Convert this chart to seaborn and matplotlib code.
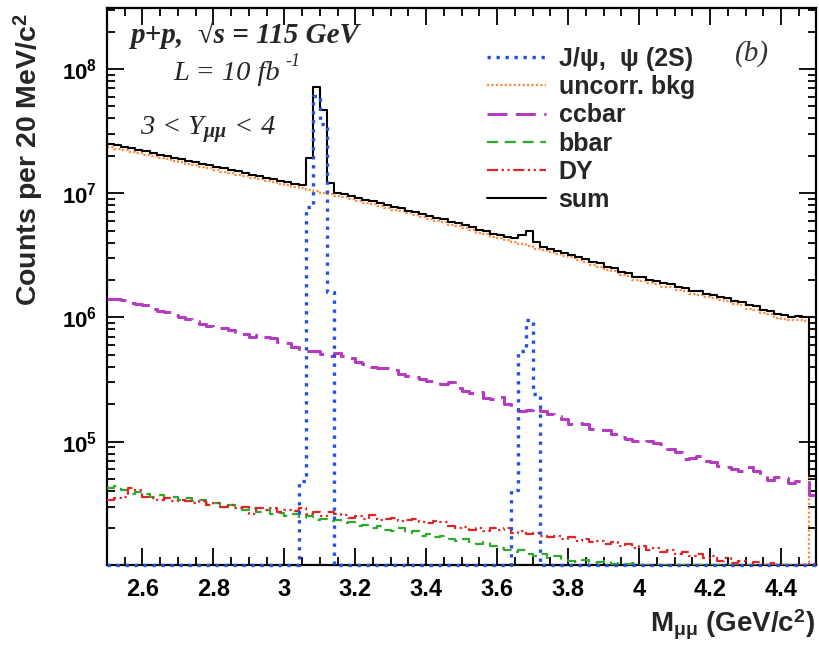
import numpy as np
import pandas as pd
import matplotlib
matplotlib.use("Agg")
import matplotlib.pyplot as plt
import matplotlib.ticker as mticker
import seaborn as sns

# ---------------- data (counts per 20 MeV bin, 2.50 - 4.50 GeV) ----------------
M_LO, M_HI, BIN_W = 2.5, 4.5, 0.02

uncorr_bkg = np.array([
    23.46, 22.80, 22.10, 21.58, 20.90, 20.36, 19.78, 19.30, 18.70, 18.25,
    17.70, 17.25, 16.75, 16.35, 15.84, 15.45, 14.96, 14.60, 14.15, 13.80,
    13.38, 13.02, 12.62, 12.30, 11.93, 11.64, 11.30, 11.02, 10.70, 10.43,
    10.13, 9.90, 9.55, 9.29, 8.95, 8.71, 8.39, 8.16, 7.85, 7.62,
    7.33, 7.15, 6.88, 6.68, 6.42, 6.25, 6.00, 5.85, 5.58, 5.43,
    5.21, 5.06, 4.82, 4.70, 4.48, 4.35, 4.17, 4.06, 3.88, 3.77,
    3.59, 3.50, 3.34, 3.26, 3.10, 3.04, 2.88, 2.81, 2.65, 2.57,
    2.42, 2.35, 2.20, 2.15, 2.01, 1.98, 1.88, 1.86, 1.76, 1.75,
    1.65, 1.64, 1.55, 1.53, 1.46, 1.44, 1.37, 1.35, 1.28, 1.26,
    1.17, 1.15, 1.08, 1.06, 0.99, 0.97, 0.95, 0.96, 0.94, 0.0]) * 1e6

ccbar = np.array([
    1.42, 1.40, 1.37, 1.30, 1.28, 1.25, 1.18, 1.12, 1.10, 1.04,
    1.00, 0.98, 0.93, 0.88, 0.86, 0.83, 0.815, 0.79, 0.76, 0.74,
    0.70, 0.72, 0.69, 0.68, 0.64, 0.62, 0.58, 0.56, 0.54, 0.54,
    0.51, 0.49, 0.52, 0.49, 0.47, 0.44, 0.42, 0.40, 0.39, 0.395,
    0.38, 0.35, 0.335, 0.33, 0.32, 0.31, 0.31, 0.29, 0.30, 0.27,
    0.255, 0.245, 0.25, 0.225, 0.22, 0.23, 0.20, 0.19, 0.178, 0.18,
    0.185, 0.178, 0.168, 0.16, 0.153, 0.138, 0.142, 0.138, 0.127, 0.123,
    0.125, 0.116, 0.110, 0.106, 0.102, 0.100, 0.102, 0.098, 0.095, 0.088,
    0.082, 0.072, 0.074, 0.076, 0.070, 0.068, 0.064, 0.062, 0.0606, 0.058,
    0.062, 0.058, 0.054, 0.0495, 0.052, 0.051, 0.0465, 0.0485, 0.0475, 0.037]) * 1e6

bbar = np.array([
    4.2, 4.4, 4.1, 3.8, 3.9, 3.8, 3.6, 3.7, 3.5, 3.6,
    3.4, 3.5, 3.3, 3.4, 3.2, 3.2, 3.0, 3.1, 2.9, 2.8,
    2.9, 2.7, 2.8, 2.6, 2.65, 2.5, 2.6, 2.45, 2.5, 2.35,
    2.4, 2.3, 2.35, 2.2, 2.25, 2.1, 2.15, 2.0, 2.1, 1.95,
    1.9, 2.0, 1.85, 1.9, 1.75, 1.8, 1.7, 1.75, 1.65, 1.6,
    1.65, 1.55, 1.5, 1.55, 1.45, 1.4, 1.35, 1.3, 1.35, 1.25,
    1.2, 1.25, 1.15, 1.2, 1.12, 1.1, 1.08, 1.12, 1.05, 1.07,
    1.1, 1.04, 1.06, 1.03, 1.05, 0.98, 0.95, 1.0, 0.93, 0.9,
    0.9, 0.88, 0.86, 0.85, 0.83, 0.8, 0.79, 0.78, 0.76, 0.74,
    0.73, 0.72, 0.7, 0.69, 0.68, 0.66, 0.65, 0.64, 0.62, 0.6]) * 1e4

drell_yan = np.array([
    3.4, 3.5, 3.6, 4.2, 4.1, 3.6, 3.5, 3.4, 3.5, 3.3,
    3.4, 3.3, 3.2, 3.3, 3.1, 3.2, 3.0, 3.1, 2.9, 3.0,
    2.6, 2.9, 2.8, 2.9, 2.7, 2.8, 2.75, 2.9, 2.6, 2.7,
    2.5, 2.7, 2.6, 2.55, 2.45, 2.5, 2.4, 2.55, 2.35, 2.4,
    2.45, 2.3, 2.35, 2.4, 2.25, 2.2, 2.3, 2.25, 2.1, 2.0,
    2.05, 1.95, 2.0, 1.9, 2.0, 1.95, 2.0, 1.85, 1.9, 1.8,
    1.85, 1.75, 1.7, 1.75, 1.65, 1.7, 1.6, 1.65, 1.55, 1.6,
    1.5, 1.55, 1.45, 1.5, 1.4, 1.45, 1.35, 1.4, 1.3, 1.35,
    1.25, 1.3, 1.2, 1.25, 1.15, 1.2, 1.1, 1.15, 1.05, 1.1,
    1.0, 1.08, 0.98, 1.05, 0.95, 1.02, 0.92, 1.0, 0.9, 1.04]) * 1e4

jpsi_psi2s = np.zeros(100)
jpsi_bins = [27, 28, 29, 30, 31]           # 3.04 - 3.14 GeV
jpsi_vals = [4.8e4, 7.8e6, 6.1e7, 3.6e7, 1.6e6]
psi2s_bins = [57, 58, 59, 60]              # 3.64 - 3.72 GeV
psi2s_vals = [4.1e4, 5.4e5, 9.6e5, 2.4e5]
jpsi_psi2s[jpsi_bins] = jpsi_vals
jpsi_psi2s[psi2s_bins] = psi2s_vals

total = uncorr_bkg + ccbar + bbar + drell_yan + jpsi_psi2s

labels = ["J/\u03c8,  \u03c8 (2S)", "uncorr. bkg", "ccbar", "bbar", "DY", "sum"]

# ---------------- style ----------------
sns.set_theme(style="ticks")
plt.rcParams["font.family"] = ["Liberation Sans", "DejaVu Sans"]
plt.rcParams["font.weight"] = "bold"
plt.rcParams["mathtext.fontset"] = "custom"
plt.rcParams["mathtext.rm"] = "Liberation Sans"
plt.rcParams["mathtext.bf"] = "Liberation Sans:bold"
plt.rcParams["mathtext.it"] = "Liberation Serif:italic"

YMIN, YMAX = 1.016e4, 3.1e8

fig = plt.figure(figsize=(8.19, 6.45), dpi=100)
ax = fig.add_axes([0.1306, 0.124, 0.8663, 0.8636])

edges = M_LO + BIN_W * np.arange(101)

def step_df(vals):
    y = np.append(vals, vals[-1])
    y = np.clip(y, YMIN, None)   # ROOT-like: empty bins drawn on the frame
    return pd.DataFrame({"m": edges, "n": y})

series = [
    (uncorr_bkg, labels[1], "#ff8a3d", (0, (1, 1)), 1.6, 2),
    (ccbar, labels[2], "#b43cc0", (0, (6.5, 2.8)), 2.2, 3),
    (bbar, labels[3], "#2daa2d", (0, (5, 3)), 1.6, 3),
    (drell_yan, labels[4], "#e02525", (0, (5, 1.6, 1, 1.6, 1, 1.6)), 1.6, 3),
    (total, labels[5], "black", "-", 1.5, 4),
    (jpsi_psi2s, labels[0], "#2253e0", (0, (1, 1.7)), 2.4, 5),
]
handles = {}
for vals, lab, col, ls, lw, z in series:
    sns.lineplot(data=step_df(vals), x="m", y="n", ax=ax, color=col,
                 linestyle=ls, linewidth=lw, drawstyle="steps-post",
                 estimator=None, sort=False, label=lab, zorder=z, legend=False)
    handles[lab] = ax.lines[-1]
handles[labels[0]].set_clip_on(False)

ax.set_yscale("log")
ax.set_xlim(M_LO, M_HI)
ax.set_ylim(YMIN, YMAX)

ax.xaxis.set_major_locator(mticker.MultipleLocator(0.2))
ax.xaxis.set_minor_locator(mticker.MultipleLocator(0.05))
ax.xaxis.set_major_formatter(mticker.FuncFormatter(lambda v, p: f"{v:g}"))
ax.yaxis.set_major_locator(mticker.LogLocator(base=10))
ax.yaxis.set_minor_locator(mticker.LogLocator(base=10, subs=np.arange(2, 10)))
ax.yaxis.set_minor_formatter(mticker.NullFormatter())
ax.yaxis.set_major_formatter(mticker.FuncFormatter(
    lambda v, p: r"$\mathbf{10^{%d}}$" % int(round(np.log10(v)))))

ax.tick_params(which="both", direction="in", top=True, right=True,
               colors="black", width=1.3)
ax.tick_params(which="major", length=12, labelsize=16, pad=7)
ax.tick_params(axis="x", which="major", pad=9, labelsize=17)
ax.tick_params(which="minor", length=5.5)
for sp in ax.spines.values():
    sp.set_linewidth(1.6)
    sp.set_color("black")
ax.set_xlabel("")
ax.set_ylabel("")

fig.text(28 / 819, 1 - 160 / 645, r"Counts per 20 MeV/c$^\mathbf{2}$",
         rotation=90, ha="center", va="center", fontsize=20.5, fontweight="bold")
fig.text(815 / 819, 1 - 625 / 645, r"M$_{\mathrm{\mu\mu}}$ (GeV/c$^\mathbf{2}$)",
         ha="right", va="center", fontsize=20, fontweight="bold")

serif = ["Liberation Serif", "DejaVu Serif"]
fig.text(130 / 819, 1 - 43 / 645, "p+p,  \u221as = 115 GeV", family=serif,
         style="italic", fontweight="bold", fontsize=21, va="baseline")
fig.text(173 / 819, 1 - 80 / 645, "L = 10 fb", family=serif,
         style="italic", fontweight="normal", fontsize=20.5, va="baseline")
fig.text(285 / 819, 1 - 66 / 645, "-1", family=serif,
         style="italic", fontweight="normal", fontsize=13, va="baseline")
fig.text(140 / 819, 1 - 135 / 645, r"3 < Y$_{\mathit{\mu\mu}}$ < 4", family=serif,
         style="italic", fontweight="normal", fontsize=20.5, va="baseline")
fig.text(735 / 819, 1 - 61 / 645, "(b)", family=serif, style="italic",
         fontweight="normal", fontsize=21, va="baseline", color="#333333")

leg = ax.legend([handles[l] for l in labels], labels, loc="upper left",
                bbox_to_anchor=(0.535, 0.93), frameon=False, fontsize=18,
                handlelength=2.36, handletextpad=0.52, labelspacing=0.17,
                borderpad=0, borderaxespad=0)
for t in leg.get_texts():
    t.set_fontweight("bold")

fig.savefig("out.png", dpi=100)
